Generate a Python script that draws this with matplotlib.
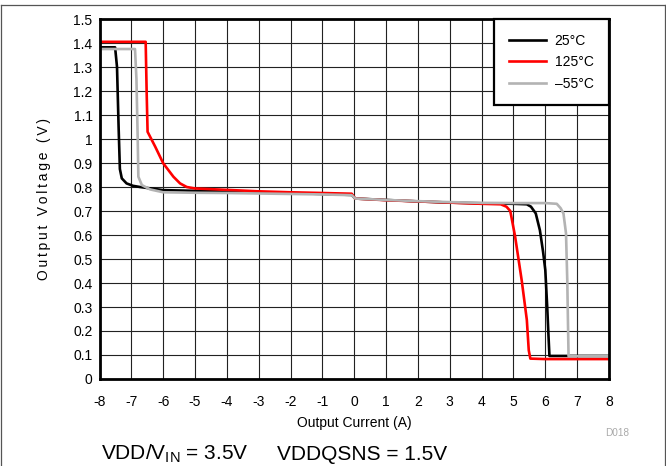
import matplotlib
matplotlib.use("Agg")
import matplotlib.pyplot as plt
from matplotlib.lines import Line2D

plt.rcParams['font.family'] = ['Liberation Sans', 'DejaVu Sans']
plt.rcParams['axes.unicode_minus'] = False
plt.rcParams['mathtext.default'] = 'regular'

# Output voltage vs. output current at three temperatures
cur_25 = [-8.0, -7.51, -7.45, -7.40, -7.36, -7.30, -7.15, -6.95, -6.73, -6.0, -5.0, -4.0,
          -3.0, -2.0, -1.0, -0.08, 0.03, 1.0, 2.0, 3.0, 4.0, 5.0, 5.42, 5.55, 5.70, 5.83,
          5.93, 6.0, 6.06, 6.10, 6.13, 7.0, 8.0]
vout_25 = [1.382, 1.382, 1.30, 1.05, 0.875, 0.836, 0.815, 0.805, 0.800, 0.787, 0.784, 0.781,
           0.778, 0.775, 0.771, 0.767, 0.752, 0.746, 0.740, 0.735, 0.732, 0.730, 0.728, 0.718,
           0.690, 0.620, 0.530, 0.454, 0.300, 0.180, 0.096, 0.096, 0.096]

cur_125 = [-8.0, -6.55, -6.52, -6.49, -6.25, -6.0, -5.68, -5.47, -5.26, -5.0, -4.0, -3.0,
           -2.0, -1.0, -0.08, 0.03, 1.0, 2.0, 3.0, 4.0, 4.6, 4.78, 4.90, 5.05, 5.26, 5.42,
           5.48, 5.53, 6.0, 8.0]
vout_125 = [1.405, 1.405, 1.20, 1.030, 0.968, 0.899, 0.843, 0.815, 0.800, 0.794, 0.788,
            0.782, 0.778, 0.775, 0.772, 0.752, 0.745, 0.740, 0.735, 0.730, 0.728, 0.718,
            0.700, 0.595, 0.410, 0.246, 0.120, 0.085, 0.083, 0.083]

cur_m55 = [-8.0, -6.885, -6.84, -6.80, -6.78, -6.67, -6.41, -6.0, -5.0, -4.0, -3.0, -2.0,
           -1.0, -0.08, 0.03, 1.0, 2.0, 3.0, 4.0, 5.0, 6.0, 6.36, 6.48, 6.57, 6.65, 6.69,
           6.71, 6.73, 7.0, 8.0]
vout_m55 = [1.375, 1.375, 1.25, 1.00, 0.843, 0.808, 0.790, 0.778, 0.776, 0.775, 0.773,
            0.771, 0.769, 0.766, 0.752, 0.746, 0.741, 0.737, 0.734, 0.733, 0.733, 0.730,
            0.712, 0.690, 0.607, 0.410, 0.250, 0.095, 0.095, 0.095]

series_labels = ['25\u00b0C', '125\u00b0C', '\u201355\u00b0C']
series_colors = ['#000000', '#ff0000', '#b3b3b3']

x_ticks = list(range(-8, 9))
y_ticks = [0, 0.1, 0.2, 0.3, 0.4, 0.5, 0.6, 0.7, 0.8, 0.9, 1.0, 1.1, 1.2, 1.3, 1.4, 1.5]
y_tick_labels = ['0', '0.1', '0.2', '0.3', '0.4', '0.5', '0.6', '0.7', '0.8', '0.9', '1',
                 '1.1', '1.2', '1.3', '1.4', '1.5']

fig = plt.figure(figsize=(6.66, 4.66), dpi=100)
ax = fig.add_axes([0.1494, 0.1867, 0.7650, 0.7725])

for xs, ys, lab, col in zip([cur_25, cur_125, cur_m55], [vout_25, vout_125, vout_m55],
                            series_labels, series_colors):
    ax.plot(xs, ys, color=col, lw=1.9, label=lab, solid_joinstyle='round', zorder=3)

ax.set_xlim(-8, 8)
ax.set_ylim(0, 1.5)
ax.set_xticks(x_ticks)
ax.set_xticklabels([str(t) for t in x_ticks])
ax.set_yticks(y_ticks)
ax.set_yticklabels(y_tick_labels)
ax.tick_params(axis='x', length=0, pad=11.5, labelsize=10)
ax.tick_params(axis='y', length=0, pad=5, labelsize=10)
ax.grid(True, color='#222222', lw=0.8, zorder=1)
ax.set_axisbelow(True)
for sp in ax.spines.values():
    sp.set_linewidth(2.0)
    sp.set_color('black')
    sp.set_zorder(4)

ax.set_xlabel('Output Current (A)', fontsize=10)
ax.xaxis.label.set_verticalalignment('center')
ax.xaxis.set_label_coords(0.5, -0.1222)
ax.set_ylabel('\u2009'.join('Output Voltage (V)'), fontsize=10)
ax.yaxis.label.set_verticalalignment('center')
ax.yaxis.set_label_coords(-0.109, 0.5)

leg = ax.legend(loc='upper left', bbox_to_anchor=(0.7743, 0.0, 0.2257, 1.0), mode='expand',
                borderaxespad=0, fontsize=10, handlelength=2.66, handletextpad=0.65,
                borderpad=1.05, labelspacing=0.55, fancybox=False, framealpha=1)
leg.get_frame().set_edgecolor('black')
leg.get_frame().set_linewidth(1.6)

fig.text(629.3 / 666, 1 - 432.7 / 466, 'D018', ha='right', va='center',
         fontsize=7.2, color='#aaaaaa')
fig.text(100.7 / 666, 1 - 460.0 / 466, 'VDD/V$_{IN}$ = 3.5V', ha='left', va='baseline',
         fontsize=15)
fig.text(276.7 / 666, 1 - 460.0 / 466, 'VDDQSNS = 1.5V', ha='left', va='baseline',
         fontsize=15)

# figure frame
frame_col = '#555555'
fig.add_artist(Line2D([0.0008, 0.998], [1 - 4.5 / 466, 1 - 4.5 / 466], color=frame_col, lw=0.9))
fig.add_artist(Line2D([0.0008, 0.0008], [0, 1 - 4.5 / 466], color=frame_col, lw=0.9))
fig.add_artist(Line2D([0.998, 0.998], [0, 1 - 4.5 / 466], color=frame_col, lw=0.9))

fig.savefig('out.png', dpi=100)
